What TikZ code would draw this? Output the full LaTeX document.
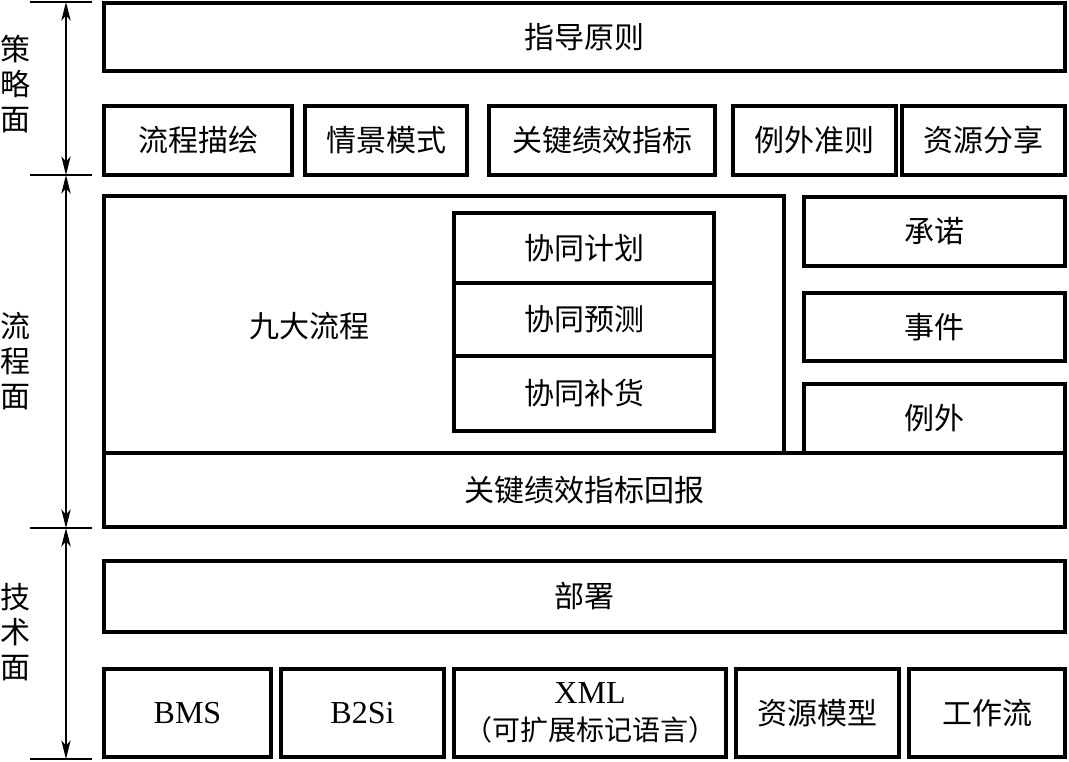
\documentclass[tikz,border=0pt]{standalone}
\usepackage{fontspec}
\setmainfont{Liberation Serif}
\newfontfamily\cjk{Noto Sans CJK SC}
\usetikzlibrary{arrows.meta}
\newcommand\bx[6]{\node[box, minimum width={(#4-#2)*0.75pt}, minimum height={(#5-#3)*0.75pt}] (#1) at ({(#2+#4)/2},{(#3+#5)/2}) {#6};}
\begin{document}
\begin{tikzpicture}[x=0.75pt,y=-0.75pt,
  box/.style={draw, line width=2.6pt, inner sep=0pt, align=center, font=\cjk\fontsize{22.5}{26}\selectfont},
  side/.style={align=center, inner sep=0pt, font=\cjk\fontsize{22.5}{26.3}\selectfont},
  tick/.style={line width=0.8pt},
  dim/.style={line width=1.3pt, {Stealth[length=14pt,width=7pt,inset=4pt]}-{Stealth[length=14pt,width=7pt,inset=4pt]}}]
\useasboundingbox (0,0) rectangle (1069,761);
% strategy layer
\bx{guide}{104}{3}{1065}{71}{指导原则}
\bx{a1}{104}{106}{292}{175}{流程描绘}
\bx{a2}{305}{106}{467}{175}{情景模式}
\bx{a3}{489}{106}{715}{175}{关键绩效指标}
\bx{a4}{733}{106}{896}{175}{例外准则}
\bx{a5}{902}{106}{1065}{175}{资源分享}
% process layer
\bx{nine}{104}{196}{784}{453}{}
\node[side] (nineT) at (309,326) {九大流程};
\bx{p1}{454}{213}{714}{283}{协同计划}
\bx{p2}{454}{283}{714}{356}{协同预测}
\bx{p3}{454}{356}{714}{431}{协同补货}
\bx{r1}{804}{197}{1065}{266}{承诺}
\bx{r2}{804}{293}{1065}{361}{事件}
\bx{r3}{804}{384}{1065}{453}{例外}
\bx{kpi}{104}{453}{1065}{527}{关键绩效指标回报}
% technology layer
\bx{deploy}{104}{561}{1065}{632}{部署}
\bx{b1}{104}{669}{271}{757}{\fontspec{Liberation Serif}\fontsize{24}{28}\selectfont BMS}
\bx{b2}{281}{669}{444}{757}{\fontspec{Liberation Serif}\fontsize{24}{28}\selectfont B2Si}
\bx{b3}{454}{669}{726}{757}{\fontspec{Liberation Serif}\fontsize{24}{24}\selectfont XML\\[2pt]\cjk\fontsize{21}{24}\selectfont （可扩展标记语言）}
\bx{b4}{736}{669}{899}{757}{资源模型}
\bx{b5}{909}{669}{1065}{757}{工作流}
% side labels
\node[side] (s1) at (15,84) {策\\略\\面};
\node[side] (s2) at (15,361) {流\\程\\面};
\node[side] (s3) at (15,632) {技\\术\\面};
% ticks and dimension arrows
\coordinate (t1) at (66,2);
\coordinate (t2) at (66,175);
\coordinate (t3) at (66,528);
\coordinate (t4) at (66,759);
\foreach \t in {t1,t2,t3,t4}{\draw[tick] ([xshift=-36*0.75pt]\t) -- ([xshift=26*0.75pt]\t);}
\draw[dim] (t1) -- (t2);
\draw[dim] (t2) -- (t3);
\draw[dim] (t3) -- (t4);
\end{tikzpicture}
\end{document}
